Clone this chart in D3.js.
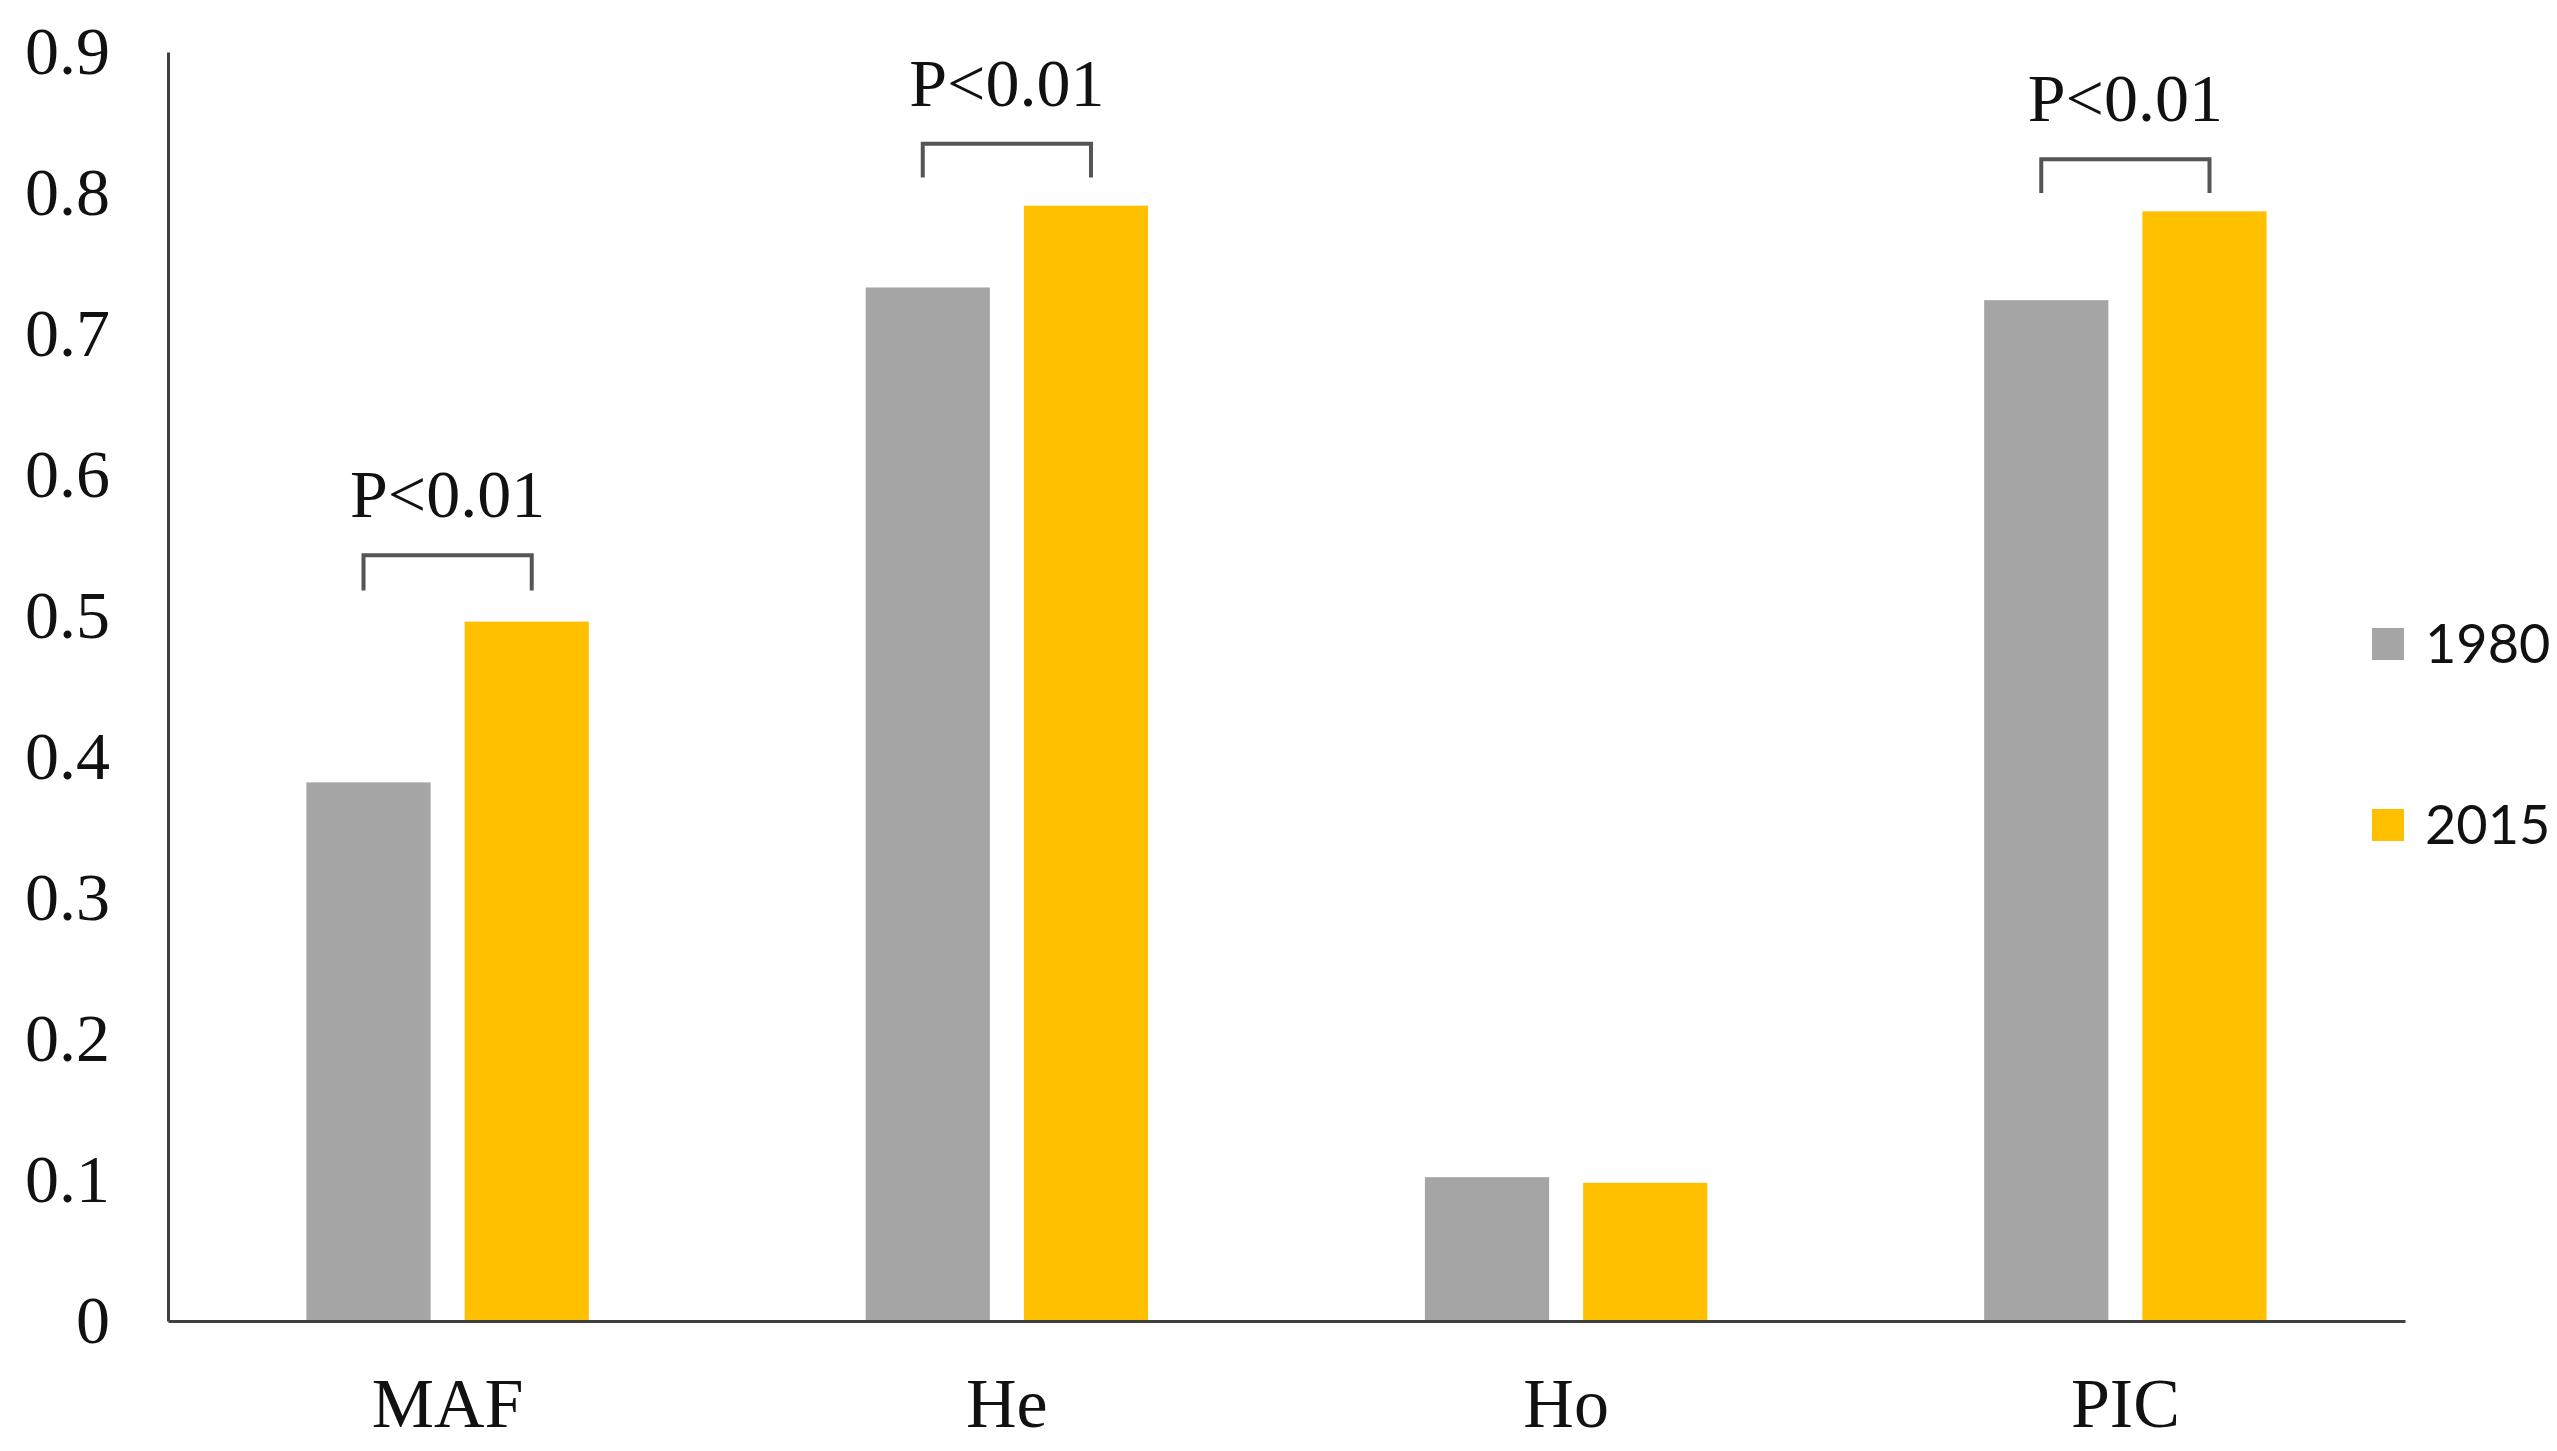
<!DOCTYPE html>
<html>
<head>
<meta charset="utf-8">
<script src="https://cdn.jsdelivr.net/npm/d3@7"></script>
<style>
  html, body { margin: 0; padding: 0; background: #fff; }
  svg { display: block; }
</style>
</head>
<body>
<div id="chart"></div>
<script>
// =======================
// Data
// =======================
const categories = ["MAF", "He", "Ho", "PIC"];
const series = ["1980", "2015"];
const values1980 = [0.382, 0.733, 0.102, 0.724];
const values2015 = [0.496, 0.791, 0.098, 0.787];
const yTicks = [0, 0.1, 0.2, 0.3, 0.4, 0.5, 0.6, 0.7, 0.8, 0.9];

// significance brackets: category, bracket top, bracket foot
const sigCategories = ["MAF", "He", "PIC"];
const sigTop = [0.543, 0.835, 0.824];
const sigFoot = [0.518, 0.811, 0.800];
const sigLabel = "P<0.01";

const colors = { "1980": "#A5A5A5", "2015": "#FFC000" };

// =======================
// SVG
// =======================
const width = 2557;
const height = 1451;
const margin = { top: 52, right: 152, bottom: 130, left: 168 };

const svg = d3.select("#chart")
    .append("svg")
    .attr("width", width)
    .attr("height", height);

const x0 = d3.scaleBand()
    .domain(categories)
    .range([margin.left, width - margin.right])
    .paddingInner(0)
    .paddingOuter(0);

const bw = x0.bandwidth();
const groupW = bw * 0.505;
const x1 = d3.scaleBand()
    .domain(series)
    .range([bw / 2 - groupW / 2, bw / 2 + groupW / 2])
    .paddingInner(0.215);

const y = d3.scaleLinear()
    .domain([0, 0.9])
    .range([height - margin.bottom, margin.top]);

const rows = categories.map((c, i) => ({
    category: c,
    "1980": values1980[i],
    "2015": values2015[i]
}));

// =======================
// Bars
// =======================
const groups = svg.append("g")
    .selectAll("g")
    .data(rows)
    .enter()
    .append("g")
    .attr("transform", d => `translate(${x0(d.category)},0)`);

groups.selectAll("rect")
    .data(d => series.map(s => ({ key: s, value: d[s] })))
    .enter()
    .append("rect")
    .attr("x", d => x1(d.key))
    .attr("width", x1.bandwidth())
    .attr("y", d => y(d.value))
    .attr("height", d => y(0) - y(d.value))
    .attr("fill", d => colors[d.key]);

// =======================
// Axes
// =======================
const axisColor = "#404040";

const yAxis = svg.append("g")
    .attr("transform", `translate(${margin.left},0)`)
    .call(d3.axisLeft(y).tickValues(yTicks).tickSize(0).tickPadding(58)
        .tickFormat(d => d === 0 ? "0" : d3.format(".1f")(d)));
yAxis.select(".domain").attr("stroke", axisColor).attr("stroke-width", 3);
yAxis.selectAll("text")
    .attr("font-family", "'Liberation Serif', 'Times New Roman', serif")
    .attr("font-size", 68)
    .attr("fill", "#111");

const xAxis = svg.append("g")
    .attr("transform", `translate(0,${y(0)})`)
    .call(d3.axisBottom(x0).tickSize(0).tickPadding(56));
xAxis.select(".domain").attr("stroke", axisColor).attr("stroke-width", 3);
xAxis.selectAll("text")
    .attr("font-family", "'Liberation Serif', 'Times New Roman', serif")
    .attr("font-size", 70)
    .attr("fill", "#111");

// =======================
// Significance brackets
// =======================
sigCategories.forEach((c, i) => {
    const left = x0(c) + x1("1980") + x1.bandwidth() / 2 - 5;
    const right = x0(c) + x1("2015") + x1.bandwidth() / 2 + 5;
    const top = y(sigTop[i]);
    const foot = y(sigFoot[i]);

    svg.append("path")
        .attr("d", `M${left},${foot} V${top} H${right} V${foot}`)
        .attr("fill", "none")
        .attr("stroke", "#555")
        .attr("stroke-width", 4);

    svg.append("text")
        .attr("x", (left + right) / 2)
        .attr("y", top - 38)
        .attr("text-anchor", "middle")
        .attr("font-family", "'Liberation Serif', 'Times New Roman', serif")
        .attr("font-size", 68)
        .attr("fill", "#111")
        .text(sigLabel);
});

// =======================
// Legend
// =======================
const legendY = [644, 825];
const legend = svg.append("g")
    .selectAll("g")
    .data(series)
    .enter()
    .append("g")
    .attr("transform", (d, i) => `translate(2372,${legendY[i]})`);

legend.append("rect")
    .attr("x", 0)
    .attr("y", -16)
    .attr("width", 32)
    .attr("height", 32)
    .attr("fill", d => colors[d]);

legend.append("text")
    .attr("x", 53)
    .attr("y", 0)
    .attr("dy", "0.35em")
    .attr("font-family", "Lato, 'Open Sans', sans-serif")
    .attr("font-size", 54)
    .attr("fill", "#111")
    .text(d => d);
</script>
</body>
</html>
